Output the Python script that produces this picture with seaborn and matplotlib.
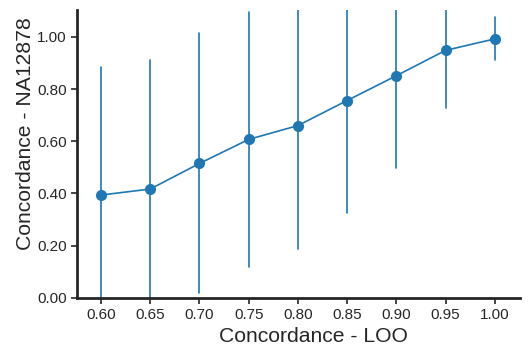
import matplotlib
matplotlib.use("Agg")
import matplotlib.pyplot as plt
import matplotlib.ticker as mticker
import seaborn as sns
import pandas as pd

x_vals = [0.60, 0.65, 0.70, 0.75, 0.80, 0.85, 0.90, 0.95, 1.00]
y_mid = [0.394, 0.417, 0.515, 0.607, 0.660, 0.756, 0.851, 0.948, 0.992]
y_low = [-0.05, -0.05, 0.018, 0.119, 0.187, 0.327, 0.496, 0.726, 0.912]
y_high = [0.884, 0.911, 1.014, 1.094, 1.15, 1.15, 1.15, 1.15, 1.075]

rows = []
for x, lo, m, hi in zip(x_vals, y_low, y_mid, y_high):
    for v in (lo, m, hi):
        rows.append({"x": x, "y": v})
df = pd.DataFrame(rows)

sns.set_style("ticks")
plt.rcParams["font.family"] = ["Liberation Sans", "DejaVu Sans"]

fig = plt.figure(figsize=(5.31, 3.53), dpi=100)
ax = fig.add_axes([0.145, 0.156, 0.834, 0.816])
color = "#1f77b4"
sns.lineplot(data=df, x="x", y="y", estimator="median", errorbar=("pi", 100),
             err_style="bars", marker="o", markersize=8, markeredgewidth=0,
             color=color, linewidth=1.2, err_kws={"linewidth": 1.2, "capsize": 0},
             ax=ax)

ax.set_xlim(0.5756, 1.0254)
ax.set_ylim(0, 1.103)
ax.set_xticks(x_vals)
ax.set_yticks([0, 0.2, 0.4, 0.6, 0.8, 1.0])
ax.xaxis.set_major_formatter(mticker.FormatStrFormatter("%.2f"))
ax.yaxis.set_major_formatter(mticker.FormatStrFormatter("%.2f"))
ax.tick_params(labelsize=11, colors="#262626", length=4, width=1.2)
ax.set_xlabel("Concordance - LOO", fontsize=15.2, color="#262626")
ax.set_ylabel("Concordance - NA12878", fontsize=15.2, color="#262626")
ax.xaxis.set_label_coords(0.534, -0.10)
ax.yaxis.set_label_coords(-0.095, 0.569)
for s in ["left", "bottom"]:
    ax.spines[s].set_linewidth(2)
    ax.spines[s].set_color("#262626")
sns.despine(ax=ax)

fig.savefig("out.png", dpi=100)
